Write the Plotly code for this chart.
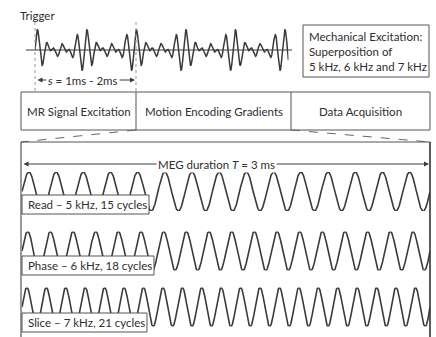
import numpy as np
import plotly.graph_objects as go

# ---------------- data ----------------
freqs_khz = [5, 6, 7]
cycles = [15, 18, 21]
direction_names = ["Read", "Phase", "Slice"]
meg_duration_ms = 3
# components of the top trace (5 carrier cycles per 1 ms beat)
top_trace_freqs_khz = [4, 5, 6]
top_trace_span_ms = 5.12
phase_blocks = ["MR Signal Excitation", "Motion Encoding Gradients", "Data Acquisition"]
trigger_label = "Trigger"
delay_label = "<i>s</i> = 1ms - 2ms"
meg_label = "MEG duration <i>T</i> = 3 ms"
excitation_label = "Mechanical Excitation:<br>Superposition of<br>5 kHz, 6 kHz and 7 kHz"

W, H = 436, 337
FONT = "Lato"
TXT = "#2e2e2e"
LINE = "#3a3a3a"
BOX = "#555555"


def py(p):  # pixel y -> paper y
    return 1 - p / H


def px(p):
    return p / W


fig = go.Figure()

# ---------- lower sine waves ----------
centers = [191.5, 251, 307]
amp = 19.5
for i, (f, n, name) in enumerate(zip(freqs_khz, cycles, direction_names)):
    k = i + 2
    t = np.linspace(0, meg_duration_ms, 3000)
    fig.add_trace(go.Scatter(x=t, y=np.sin(2 * np.pi * f * t), mode="lines",
                             line=dict(color=LINE, width=1.6),
                             xaxis=f"x{k}", yaxis=f"y{k}", hoverinfo="skip", showlegend=False))
    fig.layout[f"xaxis{k}"] = dict(domain=[px(22), px(430)], range=[0, meg_duration_ms],
                                   visible=False, anchor=f"y{k}")
    c = centers[i]
    fig.layout[f"yaxis{k}"] = dict(domain=[py(c + amp), py(c - amp)], range=[-1, 1],
                                   visible=False, anchor=f"x{k}")

# ---------- top superposition ----------
t0 = np.linspace(0, top_trace_span_ms, 4000)
sig = sum(np.sin(2 * np.pi * f * t0) for f in top_trace_freqs_khz)
fig.add_trace(go.Scatter(x=t0, y=sig, mode="lines", line=dict(color=LINE, width=1.5),
                         xaxis="x5", yaxis="y5", hoverinfo="skip", showlegend=False))
x_end = 35 + 49.5 * top_trace_span_ms
fig.layout["xaxis5"] = dict(domain=[px(35), px(x_end)], range=[0, top_trace_span_ms],
                            visible=False, anchor="y5")
fig.layout["yaxis5"] = dict(domain=[py(50 + 21), py(50 - 21)], range=[-3, 3],
                            visible=False, anchor="x5")

# base pixel axes
fig.update_layout(
    xaxis=dict(range=[0, W], visible=False, domain=[0, 1]),
    yaxis=dict(range=[H, 0], visible=False, domain=[0, 1]),
)

shapes = []
# top axis line
shapes.append(dict(type="line", x0=26, x1=292, y0=50, y1=50, line=dict(color=LINE, width=1.2)))
# trigger dotted lines
shapes.append(dict(type="line", x0=35, x1=35, y0=22, y1=92, line=dict(color="#999999", width=1, dash="dot")))
shapes.append(dict(type="line", x0=136, x1=136, y0=22, y1=92, line=dict(color="#999999", width=1, dash="dot")))
# excitation box
shapes.append(dict(type="rect", x0=303, x1=429, y0=25, y1=77, line=dict(color=BOX, width=1)))
# phase row
shapes.append(dict(type="rect", x0=21, x1=430, y0=92, y1=130, line=dict(color=BOX, width=1)))
for xd in (136, 291):
    shapes.append(dict(type="line", x0=xd, x1=xd, y0=92, y1=130, line=dict(color=BOX, width=1)))
# dashed zoom lines
shapes.append(dict(type="line", x0=136, y0=130, x1=21, y1=142, line=dict(color="#666666", width=1, dash="dash")))
shapes.append(dict(type="line", x0=291, y0=130, x1=430, y1=142, line=dict(color="#666666", width=1, dash="dash")))
# lower box
shapes.append(dict(type="line", x0=21, x1=430, y0=142, y1=142, line=dict(color=BOX, width=1.2)))
shapes.append(dict(type="line", x0=21, x1=21, y0=142, y1=340, line=dict(color=BOX, width=1.2)))
shapes.append(dict(type="line", x0=430, x1=430, y0=142, y1=340, line=dict(color="#333333", width=1.6)))
# label boxes
label_boxes = [(195, 214, 149), (256, 275, 154), (313, 332, 147)]
for (y0, y1, x1) in label_boxes:
    shapes.append(dict(type="rect", x0=22, x1=x1, y0=y0, y1=y1, layer="above",
                       fillcolor="white", line=dict(color=BOX, width=1)))
for s in shapes:
    s.setdefault("xref", "x")
    s.setdefault("yref", "y")
fig.update_layout(shapes=shapes)

ann = []
fnt = dict(family=FONT, size=11.5, color=TXT)
ann.append(dict(x=37, y=15, text=trigger_label, showarrow=False, font=fnt, xanchor="center", yanchor="middle"))
ann.append(dict(x=307, y=51, text=excitation_label, showarrow=False, font=fnt, align="left",
                xanchor="left", yanchor="middle"))
# s arrow
ann.append(dict(x=135, y=80, ax=36, ay=80, axref="x", ayref="y", text="", showarrow=True,
                arrowhead=2, arrowside="end+start", arrowsize=1, arrowwidth=1, arrowcolor=LINE))
ann.append(dict(x=83, y=80, text=delay_label, showarrow=False, font=fnt, bgcolor="white",
                xanchor="center", yanchor="middle"))
# phase blocks
for xc, name in zip([78.5, 213.5, 360.5], phase_blocks):
    ann.append(dict(x=xc, y=111, text=name, showarrow=False, font=fnt, xanchor="center", yanchor="middle"))
# MEG arrow
ann.append(dict(x=429, y=164, ax=22, ay=164, axref="x", ayref="y", text="", showarrow=True,
                arrowhead=2, arrowside="end+start", arrowsize=1, arrowwidth=1, arrowcolor=LINE))
ann.append(dict(x=216, y=164, text=meg_label, showarrow=False, font=fnt, bgcolor="white",
                xanchor="center", yanchor="middle"))
# wave labels
for (y0, y1, x1), name, f, n in zip(label_boxes, direction_names, freqs_khz, cycles):
    ann.append(dict(x=26, y=(y0 + y1) / 2, text=f"{name} \u2013 {f} kHz, {n} cycles", showarrow=False,
                    font=fnt, xanchor="left", yanchor="middle"))
for a in ann:
    a.setdefault("xref", "x")
    a.setdefault("yref", "y")
fig.update_layout(annotations=ann)

fig.update_layout(width=W, height=H, margin=dict(l=0, r=0, t=0, b=0),
                  paper_bgcolor="white", plot_bgcolor="white", showlegend=False)
fig.write_html("out.html", config={"displayModeBar": False, "staticPlot": True},
               post_script="document.body.style.margin='0';document.body.style.overflow='hidden';")
